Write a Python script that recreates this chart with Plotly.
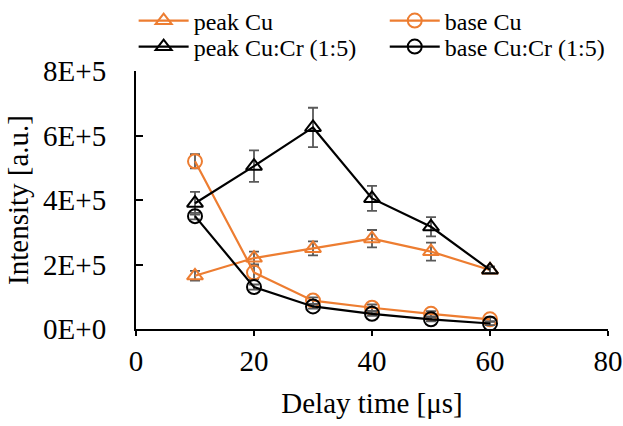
import plotly.graph_objects as go

delay = [10, 20, 30, 40, 50, 60]

peak_cu = [1.65e5, 2.2e5, 2.5e5, 2.8e5, 2.4e5, 1.83e5]
peak_cu_err = [0.15e5, 0.2e5, 0.22e5, 0.27e5, 0.28e5, 0.1e5]

base_cu = [5.2e5, 1.75e5, 0.88e5, 0.66e5, 0.47e5, 0.3e5]
base_cu_err = [0.22e5, 0.2e5, 0.1e5, 0.1e5, 0.08e5, 0.06e5]

peak_cucr = [3.9e5, 5.05e5, 6.25e5, 4.05e5, 3.17e5, 1.83e5]
peak_cucr_err = [0.35e5, 0.49e5, 0.61e5, 0.39e5, 0.3e5, 0.1e5]

base_cucr = [3.5e5, 1.3e5, 0.7e5, 0.47e5, 0.3e5, 0.17e5]
base_cucr_err = [0.1e5, 0.08e5, 0.07e5, 0.06e5, 0.06e5, 0.05e5]

y_tickvals = [0, 2e5, 4e5, 6e5, 8e5]
y_ticktext = ["0E+0", "2E+5", "4E+5", "6E+5", "8E+5"]
x_tickvals = [0, 20, 40, 60, 80]
y_range = [0, 8e5]

ORANGE = "#ED7D31"
BLACK = "#000000"
ERR = "#595959"

# (name, values, errors, colour, marker symbol, legend id)
series = [
    ("peak Cu", peak_cu, peak_cu_err, ORANGE, "triangle-up-open", "legend"),
    ("base Cu", base_cu, base_cu_err, ORANGE, "circle-open", "legend2"),
    ("peak Cu:Cr (1:5)", peak_cucr, peak_cucr_err, BLACK, "triangle-up-open", "legend3"),
    ("base Cu:Cr (1:5)", base_cucr, base_cucr_err, BLACK, "circle-open", "legend4"),
]

fig = go.Figure()
for name, ys, errs, color, sym, leg in series:
    fig.add_trace(go.Scatter(
        x=delay, y=ys, name=name, mode="lines+markers", legend=leg,
        line=dict(color=color, width=2.2),
        marker=dict(symbol=sym, size=14, color=color, line=dict(width=2, color=color)),
        error_y=dict(type="data", array=errs, visible=True, color=ERR,
                     thickness=1.8, width=5),
    ))

font_family = "Liberation Serif"
legend_style = dict(
    orientation="v", yanchor="middle", xanchor="left",
    font=dict(size=24, family=font_family, color="black"),
    itemwidth=50, tracegroupgap=0, bgcolor="rgba(0,0,0,0)",
)
row1, row2 = 1.194, 1.093
col1, col2 = -0.005, 0.527

fig.update_layout(
    width=623, height=426,
    margin=dict(l=136, r=15, t=71, b=97, autoexpand=False),
    paper_bgcolor="white", plot_bgcolor="white",
    font=dict(family=font_family, size=29, color="black"),
    showlegend=True,
    legend=dict(x=col1, y=row1, **legend_style),
    legend2=dict(x=col2, y=row1, **legend_style),
    legend3=dict(x=col1, y=row2, **legend_style),
    legend4=dict(x=col2, y=row2, **legend_style),
    xaxis=dict(
        range=[0, 80], tickvals=x_tickvals,
        showline=True, linecolor="black", linewidth=2,
        ticks="outside", ticklen=5, tickwidth=1.5, tickcolor="black",
        showgrid=False, zeroline=False,
        title=dict(text="Delay time [μs]", standoff=17, font=dict(size=29)),
        tickfont=dict(size=29),
    ),
    yaxis=dict(
        range=y_range, tickvals=y_tickvals, ticktext=y_ticktext,
        showline=True, linecolor="black", linewidth=2,
        ticks="inside", ticklen=7, tickwidth=1.5, tickcolor="black",
        showgrid=False, zeroline=False,
        ticklabelstandoff=22,
        title=dict(text="Intensity [a.u.]", standoff=6, font=dict(size=29)),
        tickfont=dict(size=29),
    ),
)

fig.write_html("out.html")
